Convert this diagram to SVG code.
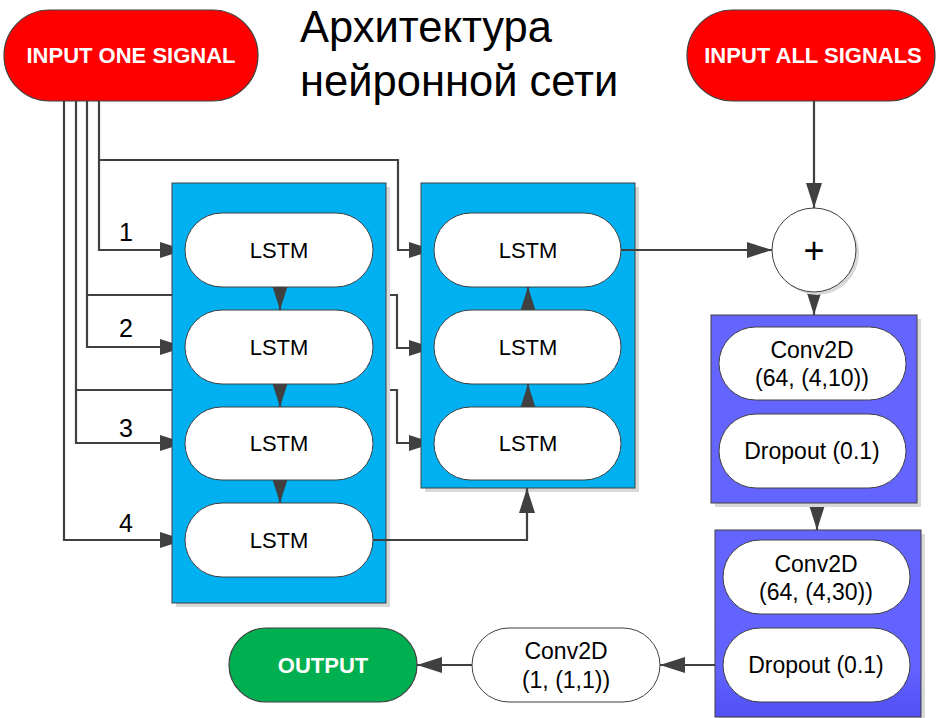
<svg xmlns="http://www.w3.org/2000/svg" width="936" height="718" viewBox="0 0 936 718">
<defs>
<marker id="arr" markerUnits="userSpaceOnUse" markerWidth="26" markerHeight="18" refX="25" refY="8" orient="auto">
<path d="M0,0 L25,8 L0,16 z" fill="#404040"/>
</marker>
<linearGradient id="g4" x1="0" y1="0" x2="0" y2="1">
<stop offset="0" stop-color="#6464FF"/>
<stop offset="0.75" stop-color="#6262FF"/>
<stop offset="1" stop-color="#5050F4"/>
</linearGradient>
</defs>
<style>
.title{font-family:"Liberation Sans","Noto Sans",sans-serif;font-size:43.5px;fill:#000}
.term{stroke:#404040;stroke-width:1.2}
.tt{font-family:"Liberation Sans",sans-serif;font-weight:bold;font-size:22px;fill:#fff;text-anchor:middle}
.pill{fill:#fff;stroke:#404040;stroke-width:1}
.pt{font-family:"Liberation Sans",sans-serif;font-size:23px;fill:#000;text-anchor:middle}
.lt{font-family:"Liberation Sans",sans-serif;font-size:22px;fill:#000;text-anchor:middle}
.blue{fill:#00B0F0;stroke:#404040;stroke-width:1}
.purple{fill:#6464FF;stroke:#404040;stroke-width:1}
.shadow{fill:#d9d9d9}
.num{font-family:"Liberation Sans",sans-serif;font-size:25px;fill:#000;text-anchor:middle}
.ca{fill:none;stroke:#404040;stroke-width:2.2;marker-end:url(#arr)}
</style>
<rect width="936" height="718" fill="#fff"/>

<g id="connectors">
<path class="ca" d="M99,101 V250 H185"/>
<path class="ca" d="M99,160 H398 V250 H434"/>
<path class="ca" d="M87,101 V347 H185"/>
<path class="ca" d="M87,295 H397 V348 H434"/>
<path class="ca" d="M76,101 V443 H185"/>
<path class="ca" d="M76,390 H397 V443 H434"/>
<path class="ca" d="M64,101 V540 H185"/>
</g>

<g id="lstm-block-1">
<rect class="shadow" x="176" y="187" width="214" height="420"/>
<rect class="blue" x="172" y="183" width="214" height="420"/>
</g>
<g id="lstm-block-2">
<rect class="shadow" x="425" y="187" width="214" height="305"/>
<rect class="blue" x="421" y="183" width="214" height="305"/>
</g>

<g id="connectors-2">
<path class="ca" d="M280,287 V310"/>
<path class="ca" d="M280,384 V407"/>
<path class="ca" d="M280,480 V503"/>
<path class="ca" d="M528,310 V287"/>
<path class="ca" d="M528,407 V384"/>
<path class="ca" d="M373,540 H527 V488"/>
<path class="ca" d="M621,250 H772"/>
<path class="ca" d="M814,101 V208"/>
<path class="ca" d="M814,292 V315"/>
<path class="ca" d="M817,503 V530"/>
<path class="ca" d="M723,665 H660"/>
<path class="ca" d="M472,665 H417"/>
</g>

<g id="title">
<text class="title" x="300" y="42">Архитектура</text>
<text class="title" x="300" y="96">нейронной сети</text>
</g>

<g id="input-one-signal">
<rect class="term" x="4" y="10" width="254" height="91" rx="45.5" fill="#FF0000"/>
<text class="tt" x="131" y="63">INPUT ONE SIGNAL</text>
</g>
<g id="input-all-signals">
<rect class="term" x="687" y="10" width="248" height="91" rx="45.5" fill="#FF0000"/>
<text class="tt" x="813" y="63">INPUT ALL SIGNALS</text>
</g>

<g id="labels">
<text class="num" x="126" y="241">1</text>
<text class="num" x="126" y="337">2</text>
<text class="num" x="126" y="437">3</text>
<text class="num" x="126" y="532">4</text>
</g>

<g id="lstm-1-1"><rect class="pill" x="185" y="213" width="188" height="74" rx="37"/><text class="lt" x="279" y="258">LSTM</text></g>
<g id="lstm-1-2"><rect class="pill" x="185" y="310" width="188" height="74" rx="37"/><text class="lt" x="279" y="355">LSTM</text></g>
<g id="lstm-1-3"><rect class="pill" x="185" y="407" width="188" height="73" rx="36.5"/><text class="lt" x="279" y="451">LSTM</text></g>
<g id="lstm-1-4"><rect class="pill" x="185" y="503" width="188" height="74" rx="37"/><text class="lt" x="279" y="548">LSTM</text></g>

<g id="lstm-2-1"><rect class="pill" x="434" y="213" width="187" height="74" rx="37"/><text class="lt" x="528" y="258">LSTM</text></g>
<g id="lstm-2-2"><rect class="pill" x="434" y="310" width="187" height="74" rx="37"/><text class="lt" x="528" y="355">LSTM</text></g>
<g id="lstm-2-3"><rect class="pill" x="434" y="407" width="187" height="73" rx="36.5"/><text class="lt" x="528" y="451">LSTM</text></g>

<g id="sum">
<circle cx="817" cy="253" r="42" fill="#d9d9d9"/>
<circle cx="814" cy="250" r="42" fill="#fff" stroke="#404040" stroke-width="1"/>
<text x="814" y="263" font-family="Liberation Sans, sans-serif" font-size="36" text-anchor="middle" fill="#000">+</text>
</g>

<g id="conv-block-1">
<rect class="shadow" x="715" y="319" width="206" height="188"/>
<rect class="purple" x="711" y="315" width="206" height="188"/>
</g>
<g id="conv2d-64-4-10"><rect class="pill" x="719" y="327" width="187" height="73" rx="36.5"/><text class="pt" x="812" y="358">Conv2D</text><text class="pt" x="812" y="386">(64, (4,10))</text></g>
<g id="dropout-1"><rect class="pill" x="719" y="414" width="187" height="74" rx="37"/><text class="pt" x="812" y="459">Dropout (0.1)</text></g>

<g id="conv-block-2">
<rect class="shadow" x="719" y="534" width="206" height="187"/>
<rect x="715" y="530" width="206" height="187" fill="url(#g4)" stroke="#404040" stroke-width="1"/>
</g>
<g id="conv2d-64-4-30"><rect class="pill" x="723" y="540" width="187" height="74" rx="37"/><text class="pt" x="816" y="572">Conv2D</text><text class="pt" x="816" y="600">(64, (4,30))</text></g>
<g id="dropout-2"><rect class="pill" x="723" y="628" width="187" height="74" rx="37"/><text class="pt" x="816" y="673">Dropout (0.1)</text></g>

<g id="conv2d-1-1-1"><rect class="pill" x="472" y="628" width="188" height="74" rx="37"/><text class="pt" x="566" y="659">Conv2D</text><text class="pt" x="566" y="688">(1, (1,1))</text></g>

<g id="output">
<rect class="term" x="229" y="628" width="188" height="74" rx="37" fill="#00B050"/>
<text class="tt" x="323" y="673">OUTPUT</text>
</g>
</svg>
